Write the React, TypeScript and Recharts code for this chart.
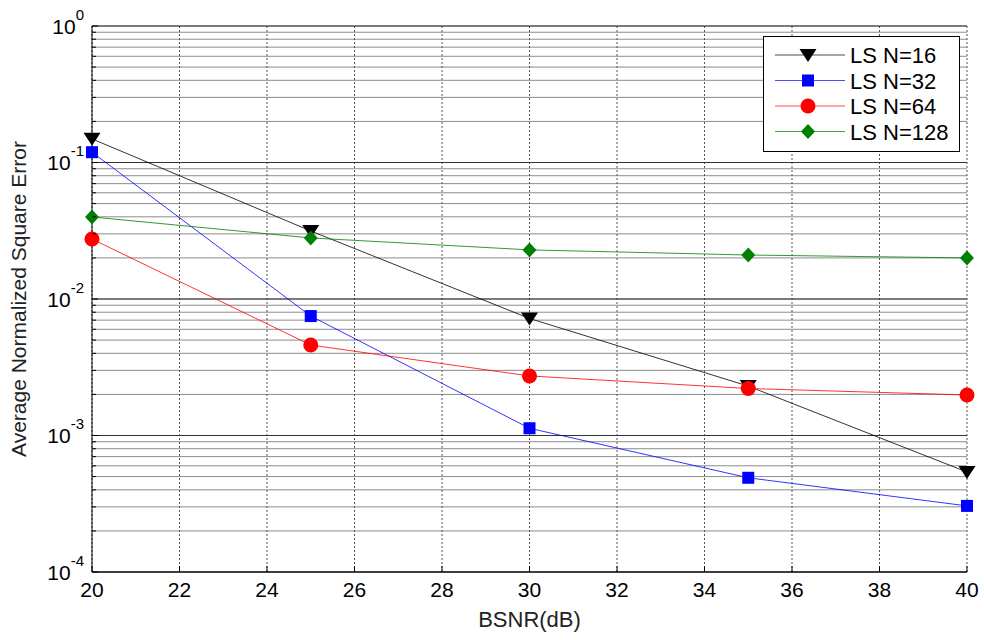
import { LineChart, Line, XAxis, YAxis, CartesianGrid, ReferenceLine, Legend } from 'recharts'

const snr = [20, 25, 30, 35, 40]
const lsN16 = [0.149, 0.0315, 0.0072, 0.0023, 0.00054]
const lsN32 = [0.119, 0.0075, 0.00113, 0.00049, 0.000305]
const lsN64 = [0.0275, 0.0046, 0.00273, 0.00221, 0.00198]
const lsN128 = [0.0399, 0.028, 0.0229, 0.021, 0.02]

const xTicks = [20, 22, 24, 26, 28, 30, 32, 34, 36, 38, 40]
const decades = [1e-4, 1e-3, 1e-2, 1e-1, 1]
const minorSteps = [1, 2, 3, 4, 5, 6, 7, 8, 9]
const yTicks = decades.flatMap(d => (d === 1 ? [1] : minorSteps.map(m => m * d)))

const data = snr.map((s, i) => ({
  snr: s,
  n16: lsN16[i],
  n32: lsN32[i],
  n64: lsN64[i],
  n128: lsN128[i],
}))

const FONT = '"Liberation Sans", Arial, sans-serif'

type Shape = 'tri' | 'square' | 'circle' | 'diamond'

const series: { key: string; name: string; color: string; shape: Shape }[] = [
  { key: 'n16', name: 'LS N=16', color: '#000000', shape: 'tri' },
  { key: 'n32', name: 'LS N=32', color: '#0000ff', shape: 'square' },
  { key: 'n64', name: 'LS N=64', color: '#ff0000', shape: 'circle' },
  { key: 'n128', name: 'LS N=128', color: '#008000', shape: 'diamond' },
]

function Marker({ cx, cy, shape, color }: { cx: number; cy: number; shape: Shape; color: string }) {
  if (cx == null || cy == null) return null
  if (shape === 'tri')
    return <polygon points={`${cx - 8.5},${cy - 6} ${cx + 8.5},${cy - 6} ${cx},${cy + 7}`} fill={color} />
  if (shape === 'square') return <rect x={cx - 6} y={cy - 6} width={12} height={12} fill={color} />
  if (shape === 'circle') return <circle cx={cx} cy={cy} r={7.5} fill={color} />
  return <polygon points={`${cx},${cy - 7.5} ${cx + 7},${cy} ${cx},${cy + 7.5} ${cx - 7},${cy}`} fill={color} />
}

const isDecade = (v: number) => Math.abs(Math.log10(v) - Math.round(Math.log10(v))) < 1e-6

// left axis: labels 10^n plus inward ticks (tickSize 0, tickMargin 8)
const LeftTick = (props: any) => {
  const { x, y, payload } = props
  const v = payload.value
  const axisX = x + 8
  const major = isDecade(v)
  return (
    <g>
      <line x1={axisX} x2={axisX + (major ? 6 : 4)} y1={y} y2={y} stroke="#000" />
      {major && (
        <text x={x} y={y + 7.5} textAnchor="end" fontSize={21} fontFamily={FONT} fill="#000">
          10
          <tspan dy={-14} fontSize={15}>{Math.round(Math.log10(v))}</tspan>
        </text>
      )}
    </g>
  )
}

const RightTick = (props: any) => {
  const { x, y, payload } = props
  const major = isDecade(payload.value)
  return <line x1={x} x2={x - (major ? 6 : 4)} y1={y} y2={y} stroke="#000" />
}

const BottomTick = (props: any) => {
  const { x, y, payload } = props
  return (
    <g>
      <line x1={x} x2={x} y1={y} y2={y - 6} stroke="#000" />
      <text x={x} y={y + 25} textAnchor="middle" fontSize={21} fontFamily={FONT} fill="#000">
        {payload.value}
      </text>
    </g>
  )
}

const TopTick = (props: any) => {
  const { x, y } = props
  return <line x1={x} x2={x} y1={y} y2={y + 6} stroke="#000" />
}

const LegendBox = () => (
  <svg width={197} height={116} style={{ display: 'block' }}>
    <rect x={0.5} y={0.5} width={196} height={115} fill="#fff" stroke="#000" />
    {series.map((s, i) => {
      const cy = 19 + i * 25.5
      return (
        <g key={s.key}>
          <line x1={12} x2={82} y1={cy} y2={cy} stroke={s.color} strokeOpacity={0.7} />
          <Marker cx={45} cy={cy} shape={s.shape} color={s.color} />
          <text x={87} y={cy + 8} fontSize={22} fontFamily={FONT} fill="#000">
            {s.name}
          </text>
        </g>
      )
    })}
  </svg>
)

export default function App() {
  return (
    <div style={{ position: 'absolute', left: 0, top: 0, width: 984, height: 640, background: '#fff' }}>
      <LineChart width={984} height={640} data={data} margin={{ top: 26, right: 17, bottom: 8, left: 0 }}>
        <CartesianGrid horizontal vertical={false} stroke="#8c8c8c" />
        <CartesianGrid horizontal={false} vertical stroke="#555" strokeDasharray="2 2" />
        {decades.map(d => (
          <ReferenceLine key={d} y={d} stroke="#333" />
        ))}
        <XAxis
          dataKey="snr"
          type="number"
          domain={[20, 40]}
          ticks={xTicks}
          interval={0}
          height={60}
          tickSize={0}
          tickMargin={0}
          tick={BottomTick}
          axisLine={{ stroke: '#000' }}
          label={(p: any) => {
            const vb = p.viewBox
            return (
              <text x={vb.x + vb.width / 2} y={vb.y + 55} textAnchor="middle" fontSize={22} fontFamily={FONT} fill="#222">
                BSNR(dB)
              </text>
            )
          }}
        />
        <XAxis
          xAxisId="top"
          orientation="top"
          dataKey="snr"
          type="number"
          domain={[20, 40]}
          ticks={xTicks}
          interval={0}
          height={0}
          tickSize={0}
          tickMargin={0}
          tick={TopTick}
          axisLine={{ stroke: '#000' }}
        />
        <YAxis
          type="number"
          scale="log"
          domain={[1e-4, 1]}
          allowDataOverflow
          ticks={yTicks}
          interval={0}
          width={92}
          tickSize={0}
          tickMargin={8}
          tick={LeftTick}
          axisLine={{ stroke: '#000' }}
          label={(p: any) => {
            const vb = p.viewBox
            const cx = vb.x + 18
            const cy = vb.y + vb.height / 2
            return (
              <text x={cx} y={cy} transform={`rotate(-90 ${cx} ${cy})`} textAnchor="middle" dominantBaseline="central" fontSize={21} fontFamily={FONT} fill="#222">
                Average Normalized Square Error
              </text>
            )
          }}
        />
        <YAxis
          yAxisId="right"
          orientation="right"
          type="number"
          scale="log"
          domain={[1e-4, 1]}
          allowDataOverflow
          ticks={yTicks}
          interval={0}
          width={0}
          tickSize={0}
          tickMargin={0}
          tick={RightTick}
          axisLine={{ stroke: '#000' }}
        />
        {series.map(s => (
          <Line
            key={s.key}
            dataKey={s.key}
            name={s.name}
            type="linear"
            stroke={s.color}
            strokeWidth={1}
            strokeOpacity={0.8}
            isAnimationActive={false}
            dot={(p: any) => <Marker key={`${s.key}-${p.index}`} cx={p.cx} cy={p.cy} shape={s.shape} color={s.color} />}
            activeDot={false}
          />
        ))}
        <Legend
          verticalAlign="middle"
          align="center"
          layout="horizontal"
          content={LegendBox}
          wrapperStyle={{ position: 'absolute', left: 763, top: 36, width: 197, height: 116 }}
        />
      </LineChart>
    </div>
  )
}
